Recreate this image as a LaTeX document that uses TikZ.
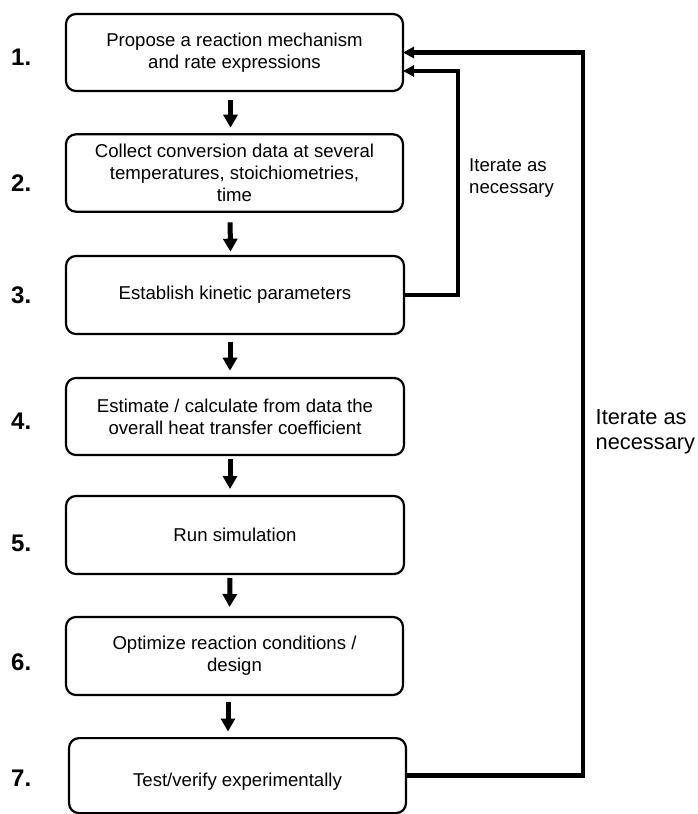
\documentclass[tikz,border=0pt]{standalone}
\usepackage{fontspec}
\setmainfont{Liberation Sans}
\usetikzlibrary{arrows.meta}
\begin{document}
\begin{tikzpicture}[x=1pt,y=-1pt,
  box/.style={draw, line width=2.2pt, rounded corners=10pt, minimum width=337pt,
    minimum height=77pt, inner sep=0pt, outer sep=0pt, align=center,
    font=\fontsize{18.6}{22.3}\selectfont},
  num/.style={anchor=base west, inner sep=0pt, font=\fontsize{24}{28}\selectfont\bfseries},
  flow/.style={line width=5pt, -{Triangle[length=13pt,width=14pt]}},
  back/.style={line width=4.3pt, -{Triangle[length=11pt,width=11pt]}},
  lbl/.style={anchor=west, inner sep=0pt, align=left}]
\useasboundingbox (0,0) rectangle (698,814);

% boxes
\node[box] (b1) at (234.5,52.5) {Propose a reaction mechanism\\and rate expressions};
\node[box, minimum height=77.4pt] (b2) at (234.5,173) {Collect conversion data at several\\temperatures, stoichiometries,\\time};
\node[box, minimum width=338pt, minimum height=78pt] (b3) at (235,295) {Establish kinetic parameters};
\node[box, minimum width=338pt] (b4) at (235,416.5) {Estimate / calculate from data the\\overall heat transfer coefficient};
\node[box, minimum width=338pt, minimum height=78pt] (b5) at (235,535) {Run simulation};
\node[box, minimum height=78pt] (b6) at (234.5,656) {Optimize reaction conditions /\\design};
\node[box, minimum height=75pt, text height=26pt, text depth=4pt] (b7) at (237.5,775.6) {Test/verify experimentally};

% step numbers
\node[num] (n1) at (11,65.7) {1.};
\node[num] (n2) at (11,191) {2.};
\node[num] (n3) at (11,303.3) {3.};
\node[num] (n4) at (11,429.3) {4.};
\node[num] (n5) at (11,551) {5.};
\node[num] (n6) at (11,670) {6.};
\node[num] (n7) at (11,786.5) {7.};

% downward arrows
\draw[flow, shorten <=9pt, shorten >=6.6pt] ([xshift=-4pt]b1.south) -- ([xshift=-4pt]b2.north);
\draw[flow, shorten <=10.6pt, shorten >=4.3pt] ([xshift=-4.5pt]b2.south) -- ([xshift=-4.5pt]b3.north);
\draw[flow, shorten <=7.7pt, shorten >=7.3pt] ([xshift=-5pt]b3.south) -- ([xshift=-5pt]b4.north);
\draw[flow, shorten <=4.3pt, shorten >=7pt] ([xshift=-5pt]b4.south) -- ([xshift=-5pt]b5.north);
\draw[flow, shorten <=4pt, shorten >=10pt] ([xshift=-5pt]b5.south) -- ([xshift=-5pt]b6.north);
\draw[flow, shorten <=6.7pt, shorten >=6.6pt] ([xshift=-6.5pt]b6.south) -- ([xshift=-9.5pt]b7.north);

% feedback loops
\draw[back] (b3.east) -- ++(54.3,0) |- ([yshift=-18.5pt]b1.east);
\draw[back] (b7.east) -- ++(177.3,0) |- (b1.east);

% loop labels
\node[lbl, font=\fontsize{18.6}{22.3}\selectfont] (l1) at (469,178) {Iterate as\\necessary};
\node[lbl, font=\fontsize{21.8}{25}\selectfont] (l2) at (595.5,432) {Iterate as\\necessary};
\end{tikzpicture}
\end{document}
